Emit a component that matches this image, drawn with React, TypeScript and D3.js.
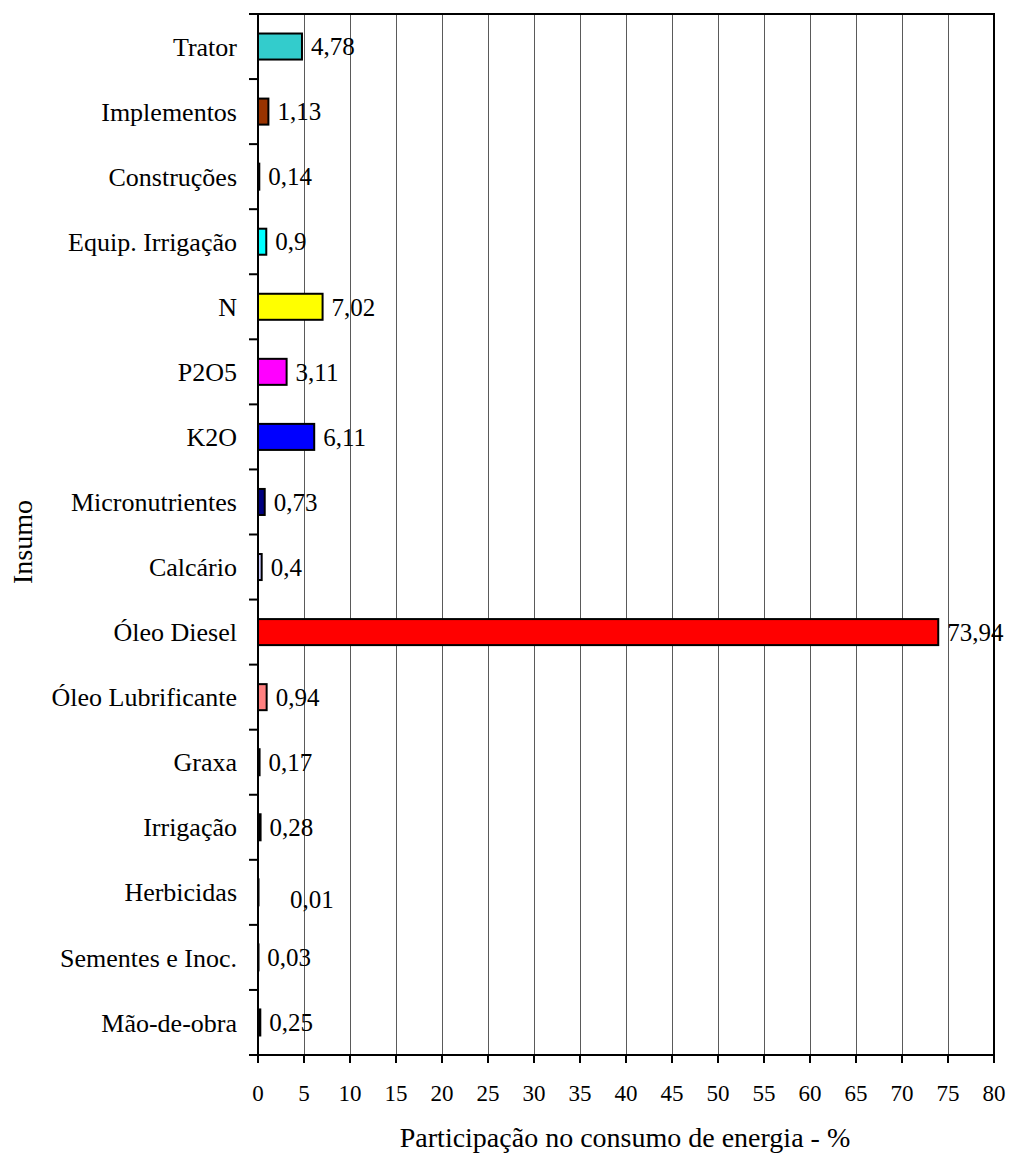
import React from "react";
import * as d3 from "d3";

const categories = [
  "Trator", "Implementos", "Construções", "Equip. Irrigação", "N", "P2O5", "K2O",
  "Micronutrientes", "Calcário", "Óleo Diesel", "Óleo Lubrificante", "Graxa",
  "Irrigação", "Herbicidas", "Sementes e Inoc.", "Mão-de-obra",
];
const values = [4.78, 1.13, 0.14, 0.9, 7.02, 3.11, 6.11, 0.73, 0.4, 73.94, 0.94, 0.17, 0.28, 0.01, 0.03, 0.25];
const labels = ["4,78", "1,13", "0,14", "0,9", "7,02", "3,11", "6,11", "0,73", "0,4", "73,94", "0,94", "0,17", "0,28", "0,01", "0,03", "0,25"];
const colors = [
  "#33CCCC", "#993300", "#000000", "#00FFFF", "#FFFF00", "#FF00FF", "#0000FF",
  "#000080", "#CCCCFF", "#FF0000", "#FF8080", "#000000", "#000000", "#000000", "#000000", "#000000",
];
const xTicks = d3.range(0, 81, 5);

export default function App() {
  const W = 1009, H = 1153;
  const left = 258, right = 994, top = 14, bottom = 1055;
  const x = d3.scaleLinear().domain([0, 80]).range([left, right]);
  const y = d3.scaleBand<string>().domain(categories).range([top, bottom]).paddingInner(0.6).paddingOuter(0.3);
  const band = (bottom - top) / categories.length;
  const font = "'Liberation Serif', 'Times New Roman', serif";
  return (
    <svg width={W} height={H} style={{ position: "absolute", left: 0, top: 0 }} fontFamily={font}>
      <rect x={0} y={0} width={W} height={H} fill="#fff" />
      {xTicks.slice(1, -1).map((t) => (
        <line key={"g" + t} x1={Math.round(x(t)) + 0.5} x2={Math.round(x(t)) + 0.5} y1={top} y2={bottom} stroke="#5a5a5a" strokeWidth={1} />
      ))}
      {categories.map((c, i) => {
        const yy = y(c)!;
        const w = Math.max(x(values[i]) - x(0), 0.5);
        const isHerb = c === "Herbicidas";
        return (
          <g key={c}>
            <rect x={x(0)} y={yy} width={w} height={y.bandwidth()} fill={colors[i]} stroke="#000" strokeWidth={2} />
            <text
              x={x(values[i]) + 9 + (isHerb ? 23 : 0)}
              y={yy + y.bandwidth() / 2 + (isHerb ? 7 : 0)}
              dy="0.35em"
              fontSize={25}
              fill="#000"
            >
              {labels[i]}
            </text>
            <text x={237} y={yy + y.bandwidth() / 2} dy="0.35em" textAnchor="end" fontSize={26} fill="#000">
              {c}
            </text>
          </g>
        );
      })}
      {d3.range(categories.length + 1).map((i) => (
        <line key={"yt" + i} x1={249} x2={left} y1={top + i * band} y2={top + i * band} stroke="#000" strokeWidth={2} />
      ))}
      <rect x={left} y={top} width={right - left} height={bottom - top} fill="none" stroke="#000" strokeWidth={2} />
      {xTicks.map((t) => (
        <g key={"xt" + t}>
          <line x1={x(t)} x2={x(t)} y1={bottom} y2={bottom + 8} stroke="#000" strokeWidth={2} />
          <text x={x(t)} y={1093} dy="0.35em" textAnchor="middle" fontSize={23} fill="#000">
            {t}
          </text>
        </g>
      ))}
      <text x={625} y={1137} dy="0.35em" textAnchor="middle" fontSize={28} fill="#000">
        Participação no consumo de energia - %
      </text>
      <text transform="translate(22,542) rotate(-90)" dy="0.35em" textAnchor="middle" fontSize={28} fill="#000">
        Insumo
      </text>
    </svg>
  );
}
